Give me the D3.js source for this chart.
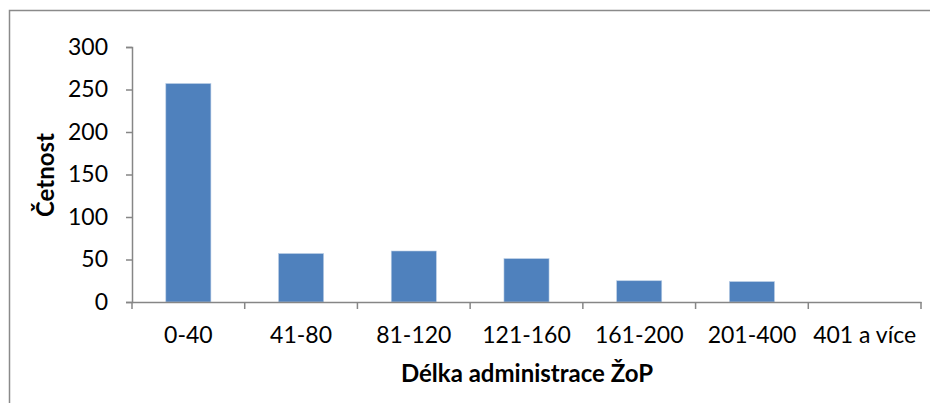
<!DOCTYPE html>
<html><head><meta charset="utf-8">
<script src="https://cdn.jsdelivr.net/npm/d3@7"></script>
<style>
html,body{margin:0;padding:0;background:#fff;}
svg{display:block;}
text{font-family:Lato,"Open Sans",sans-serif;fill:#000;}
</style></head>
<body>
<svg id="c" width="930" height="403"></svg>
<script>
const categories = ["0-40","41-80","81-120","121-160","161-200","201-400","401 a více"];
const counts = [257, 57, 60, 51, 25, 24, 0];
const yTicks = [0, 50, 100, 150, 200, 250, 300];
const xTitle = "Délka administrace ŽoP";
const yTitle = "Četnost";

const svg = d3.select("#c");
const W = 930, H = 403;
const m = {left: 132, right: 9, top: 47, bottom: 101};

// outer frame
svg.append("rect").attr("x", 9.5).attr("y", 10.5).attr("width", W).attr("height", H)
  .attr("fill", "none").attr("stroke", "#8a8a8a").attr("stroke-width", 1.5);

const x = d3.scaleBand().domain(categories).range([m.left, W - m.right]).paddingInner(0.6).paddingOuter(0.3);
const y = d3.scaleLinear().domain([0, 300]).range([H - m.bottom, m.top]);

// bars
svg.append("g").selectAll("rect").data(categories).join("rect")
  .attr("x", d => x(d)).attr("width", x.bandwidth())
  .attr("y", (d,i) => y(counts[i])).attr("height", (d,i) => y(0) - y(counts[i]))
  .attr("fill", "#4f81bd").attr("stroke", "#b9cde5").attr("stroke-width", 0.6);

// y axis
const ya = svg.append("g").attr("transform", `translate(${m.left},0)`)
  .call(d3.axisLeft(y).tickValues(yTicks).tickSize(6).tickPadding(18));
ya.select(".domain").attr("stroke", "#868686").attr("stroke-width", 1.5);
ya.selectAll(".tick line").attr("stroke", "#868686").attr("stroke-width", 1.5);
ya.selectAll(".tick text").style("font-size", "23px").attr("fill", "#000");

// x axis
const step = x.step();
const xa = svg.append("g").attr("transform", `translate(0,${y(0)})`)
  .call(d3.axisBottom(x).tickSize(0).tickPadding(25));
xa.select(".domain").attr("stroke", "#868686").attr("stroke-width", 1.5);
xa.selectAll(".tick text").style("font-size", "23px").attr("fill", "#000");
// category boundary tick marks
const bounds = d3.range(categories.length + 1).map(i => m.left + i * step);
xa.selectAll(".btick").data(bounds).join("line").attr("class","btick")
  .attr("x1", d => d).attr("x2", d => d).attr("y1", 0).attr("y2", 7)
  .attr("stroke", "#868686").attr("stroke-width", 1.5);

// titles
svg.append("text").attr("x", 527).attr("y", 382)
  .attr("text-anchor", "middle").style("font-size", "24px").style("font-weight", "bold")
  .text(xTitle);
svg.append("text").attr("transform", "translate(54,175) rotate(-90)")
  .attr("text-anchor", "middle").style("font-size", "24px").style("font-weight", "bold")
  .text(yTitle);
</script>
</body></html>
